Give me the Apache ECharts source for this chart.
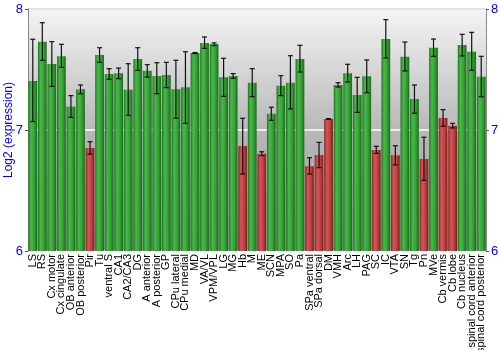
<!DOCTYPE html>
<html><head><meta charset="utf-8">
<script src="https://cdn.jsdelivr.net/npm/echarts@6/dist/echarts.min.js"></script>
<style>html,body{margin:0;padding:0;background:#fff}#c{width:500px;height:350px}</style>
</head><body><div id="c"></div>
<script>
const categories = ["LS","RS","Cx motor","Cx cingulate","OB anterior","OB posterior","Pir","Tu","ventral S","CA1","CA2/CA3","DG","A anterior","A posterior","GP","CPu lateral","CPu medial","MD","VA/VL","VPM/VPL","LG","MG","Hb","M","ME","SCN","MPA","SO","Pa","SPa ventral","SPa dorsal","DM","VMH","Arc","LH","PAG","SC","IC","VTA","SN","Tg","Pn","MVe","Cb vermis","Cb lobe","Cb nucleus","spinal cord anterior","spinal cord posterior"];
const values = [7.405,7.73,7.545,7.609,7.193,7.336,6.851,7.62,7.463,7.468,7.333,7.587,7.49,7.446,7.455,7.336,7.353,7.636,7.719,7.711,7.435,7.446,6.868,7.391,6.804,7.135,7.366,7.391,7.587,6.70,6.793,7.091,7.372,7.468,7.289,7.444,6.835,7.752,6.791,7.606,7.256,6.76,7.68,7.099,7.036,7.702,7.647,7.44];
const errHigh = [7.75,7.887,7.73,7.708,7.284,7.372,6.903,7.68,7.507,7.512,7.548,7.68,7.54,7.556,7.559,7.576,7.647,7.64,7.769,7.72,7.593,7.466,7.097,7.507,6.82,7.188,7.449,7.614,7.70,6.771,6.898,7.094,7.391,7.543,7.435,7.579,6.865,7.912,6.87,7.727,7.372,6.94,7.752,7.168,7.055,7.791,7.807,7.609];
const errLow = [7.07,7.576,7.36,7.518,7.105,7.30,6.80,7.56,7.419,7.424,7.121,7.493,7.438,7.30,7.35,7.097,7.055,7.632,7.675,7.697,7.278,7.427,6.636,7.275,6.788,7.08,7.284,7.174,7.479,6.636,6.689,7.088,7.355,7.397,7.146,7.308,6.807,7.595,6.711,7.488,7.138,6.584,7.609,7.031,7.017,7.612,7.493,7.275];
const yTicks = [6,7,8];
const threshold = 7.12;

const greenGrad = new echarts.graphic.LinearGradient(0,0,1,0,[
  {offset:0,color:'#207520'},{offset:0.3,color:'#4ab84a'},{offset:0.65,color:'#36a236'},{offset:1,color:'#1c681c'}]);
const redGrad = new echarts.graphic.LinearGradient(0,0,1,0,[
  {offset:0,color:'#8c2424'},{offset:0.3,color:'#d45656'},{offset:0.65,color:'#be4242'},{offset:1,color:'#7c1e1e'}]);

const chart = echarts.init(document.getElementById('c'), null, {renderer:'canvas'});
const axisLabelStyle = {color:'#0000ff', fontSize:13, fontFamily:'Liberation Sans'};
chart.setOption({
  animation:false,
  grid:{left:28, right:14, top:9, bottom:99, show:true, borderWidth:0, containLabel:false, outerBoundsMode:'none',
    backgroundColor:new echarts.graphic.LinearGradient(0,0,0,1,[{offset:0,color:'#f4f4f4'},{offset:0.5,color:'#b8b8b8'},{offset:1,color:'#9a9a9a'}])},
  xAxis:{type:'category', data:categories,
    axisLine:{show:false}, axisTick:{show:false},
    axisLabel:{rotate:90, interval:0, fontSize:11, color:'#000', fontFamily:'Liberation Sans', margin:3}},
  yAxis:[
    {type:'value', min:6, max:8, interval:1, position:'left',
     name:'Log2 (expression)', nameLocation:'middle', nameGap:13, nameRotate:90, nameMoveOverlap:false,
     nameTextStyle:{color:'#0000ff', fontSize:12, fontFamily:'Liberation Sans'},
     axisLine:{show:true, lineStyle:{color:'#888'}}, axisTick:{show:true, length:3, lineStyle:{color:'#555'}},
     axisLabel:Object.assign({margin:5, formatter:v=>yTicks.includes(v)?String(v):''}, axisLabelStyle),
     splitLine:{show:true, lineStyle:{color:'#ffffff', width:1.5}}},
    {type:'value', min:6, max:8, interval:1, position:'right',
     axisLine:{show:true, lineStyle:{color:'#888'}}, axisTick:{show:true, length:3, lineStyle:{color:'#555'}},
     axisLabel:Object.assign({margin:5, formatter:v=>yTicks.includes(v)?String(v):''}, axisLabelStyle),
     splitLine:{show:false}}
  ],
  series:[
    {type:'bar', data:values.map(v=>({value:v, itemStyle:{color: v>threshold?greenGrad:redGrad}})),
     barCategoryGap:'8%', itemStyle:{borderWidth:0}},
    {type:'custom', z:10,
     data:categories.map((c,i)=>[i, errLow[i], errHigh[i]]),
     renderItem:function(params, api){
       const i = api.value(0);
       const lo = api.coord([i, api.value(1)]);
       const hi = api.coord([i, api.value(2)]);
       const hw = 2.5;
       const st = {stroke:'#111', lineWidth:1.2};
       return {type:'group', children:[
         {type:'line', shape:{x1:lo[0],y1:lo[1],x2:hi[0],y2:hi[1]}, style:st},
         {type:'line', shape:{x1:lo[0]-hw,y1:lo[1],x2:lo[0]+hw,y2:lo[1]}, style:st},
         {type:'line', shape:{x1:hi[0]-hw,y1:hi[1],x2:hi[0]+hw,y2:hi[1]}, style:st}
       ]};
     }}
  ],
  graphic:[{type:'line', shape:{x1:28,y1:9,x2:486,y2:9}, style:{stroke:'#666', lineWidth:1.5}}]
});
</script></body></html>
